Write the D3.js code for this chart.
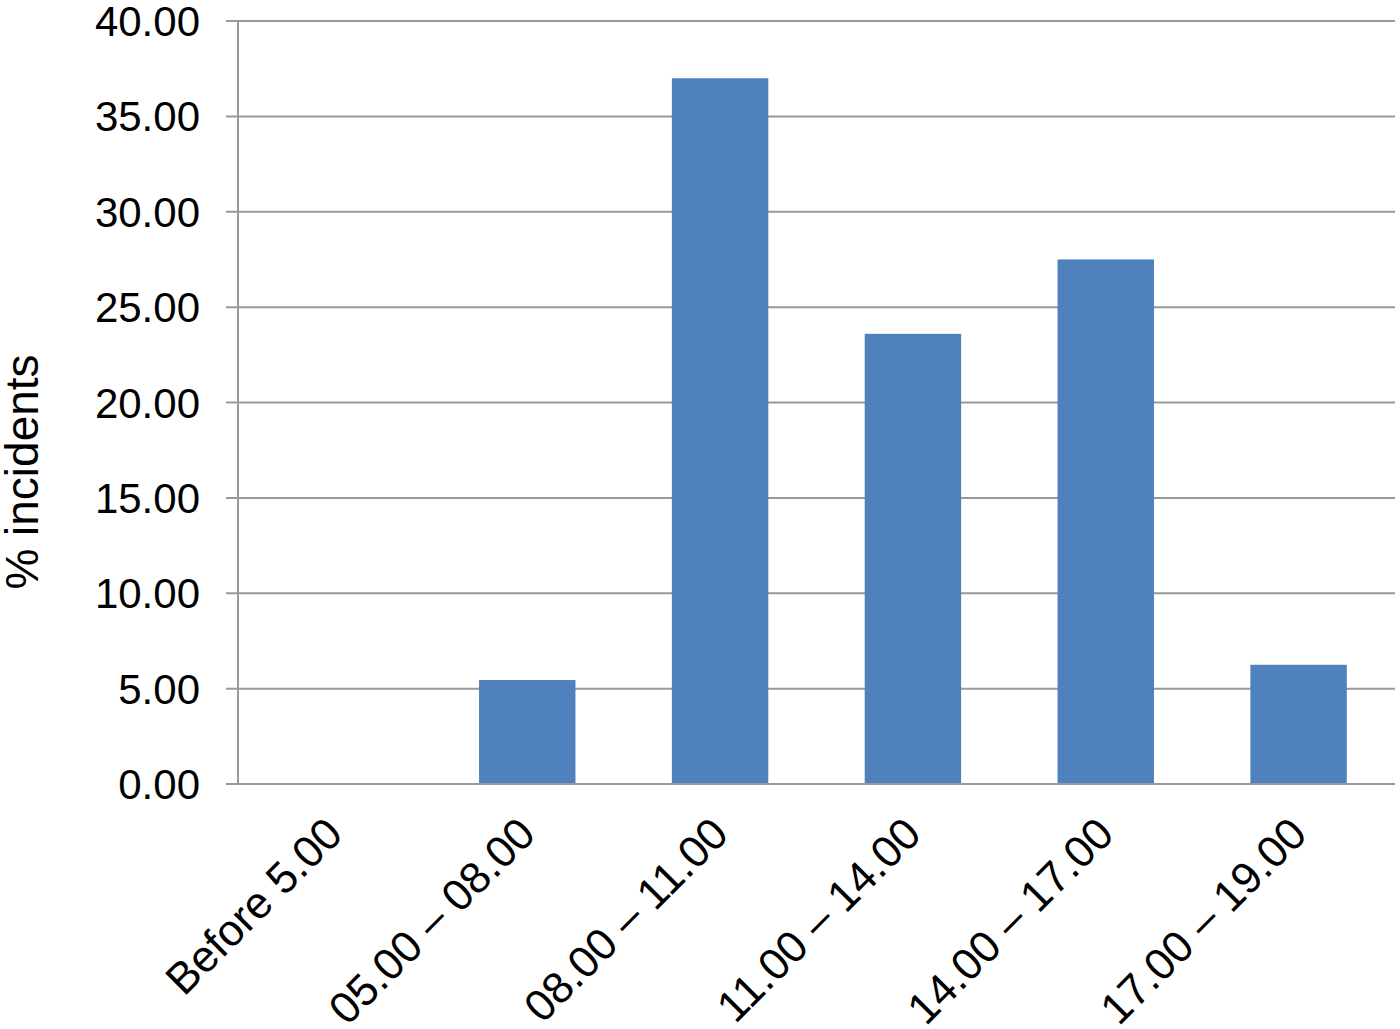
<!DOCTYPE html>
<html>
<head>
<meta charset="utf-8">
<script src="https://cdn.jsdelivr.net/npm/d3@7"></script>
<style>
  body { margin: 0; background: #fff; }
  svg text { font-family: "Liberation Sans", Arial, sans-serif; fill: #000; }
</style>
</head>
<body>
<svg id="chart" width="1400" height="1029"></svg>
<script>
// Data
const categories = ['Before 5.00', '05.00 \u2013 08.00', '08.00 \u2013 11.00', '11.00 \u2013 14.00', '14.00 \u2013 17.00', '17.00 \u2013 19.00'];
const values = [0, 5.45, 37.0, 23.6, 27.5, 6.25];
const yTicks = [0, 5, 10, 15, 20, 25, 30, 35, 40];

const margin = {top: 21, right: 5, bottom: 245, left: 238};
const width = 1400 - margin.left - margin.right;
const height = 1029 - margin.top - margin.bottom;

const svg = d3.select('#chart')
    .append('g')
    .attr('transform', `translate(${margin.left},${margin.top})`);

const x = d3.scaleBand()
    .domain(categories)
    .range([0, width])
    .paddingInner(0.5)
    .paddingOuter(0.25);

const y = d3.scaleLinear()
    .domain([0, 40])
    .range([height, 0]);

// Gridlines with tick marks to the left of the axis
svg.append('g')
    .selectAll('line')
    .data(yTicks)
    .enter()
    .append('line')
    .attr('x1', -12)
    .attr('x2', width)
    .attr('y1', d => y(d))
    .attr('y2', d => y(d))
    .attr('stroke', '#999')
    .attr('stroke-width', 2);

// Y axis line
svg.append('line')
    .attr('x1', 0).attr('x2', 0)
    .attr('y1', 0).attr('y2', height)
    .attr('stroke', '#999')
    .attr('stroke-width', 2);

// Bars
svg.selectAll('.bar')
    .data(values)
    .enter()
    .append('rect')
    .attr('class', 'bar')
    .attr('x', (d, i) => x(categories[i]))
    .attr('width', x.bandwidth())
    .attr('y', d => y(d))
    .attr('height', d => height - y(d))
    .attr('fill', '#4f81bd');

// Baseline redrawn over bars
svg.append('line')
    .attr('x1', -12).attr('x2', width)
    .attr('y1', height).attr('y2', height)
    .attr('stroke', '#999')
    .attr('stroke-width', 2);

// Y tick labels
svg.append('g')
    .selectAll('text')
    .data(yTicks)
    .enter()
    .append('text')
    .attr('x', -38)
    .attr('y', d => y(d))
    .attr('dy', '0.36em')
    .attr('text-anchor', 'end')
    .style('font-size', '42px')
    .text(d => d3.format('.2f')(d));

// X labels rotated
svg.append('g')
    .selectAll('text')
    .data(categories)
    .enter()
    .append('text')
    .attr('transform', d => `translate(${x(d) + x.bandwidth() / 2 - 12},${height + 30}) rotate(-45)`)
    .attr('text-anchor', 'end')
    .attr('dy', '0.72em')
    .style('font-size', '44px')
    .text(d => d);

// Y axis title
svg.append('text')
    .attr('transform', 'rotate(-90)')
    .attr('x', -(472 - margin.top))
    .attr('y', -200)
    .attr('text-anchor', 'middle')
    .style('font-size', '46px')
    .text('% incidents');
</script>
</body>
</html>
